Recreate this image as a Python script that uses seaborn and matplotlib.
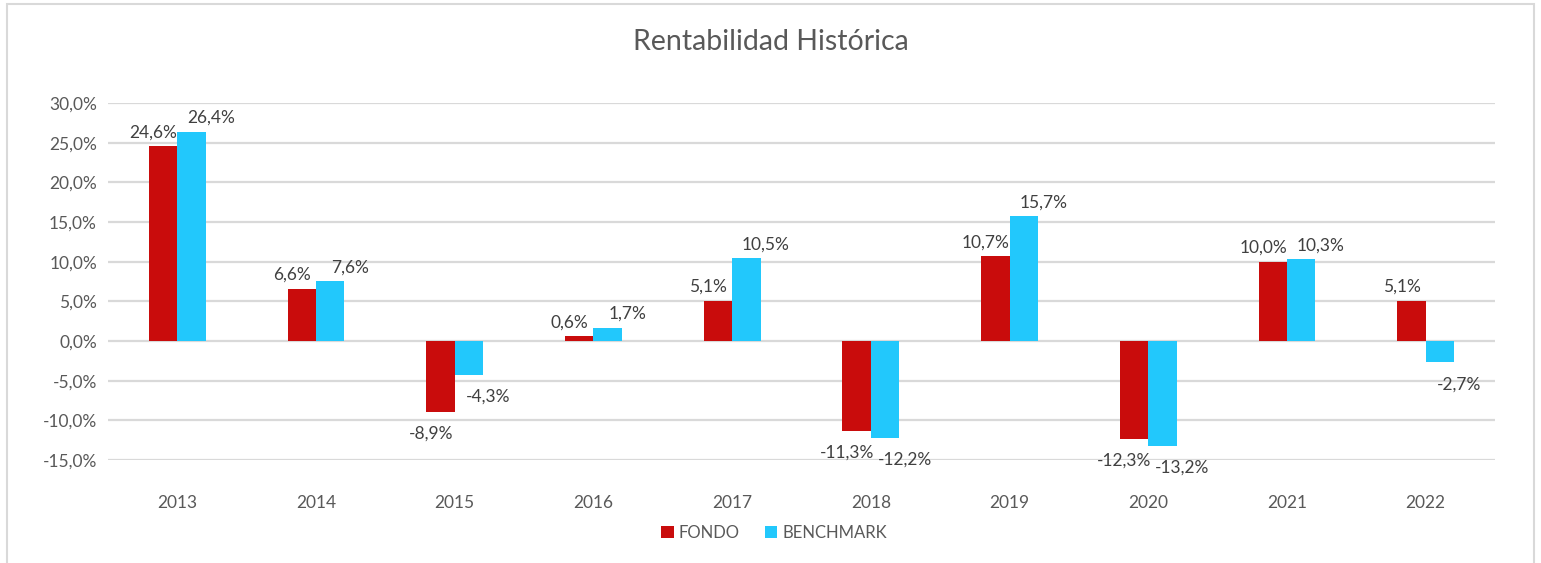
import pandas as pd
import seaborn as sns
import matplotlib.pyplot as plt
from matplotlib.ticker import FuncFormatter, MultipleLocator
from matplotlib.patches import Rectangle

# data (percent)
years = ['2013', '2014', '2015', '2016', '2017', '2018', '2019', '2020', '2021', '2022']
fondo = [24.6, 6.6, -8.9, 0.6, 5.1, -11.3, 10.7, -12.3, 10.0, 5.1]
benchmark = [26.4, 7.6, -4.3, 1.7, 10.5, -12.2, 15.7, -13.2, 10.3, -2.7]
series = ['FONDO', 'BENCHMARK']
colors = ['#C90C0C', '#22C8FC']

df = pd.DataFrame({
    'year': years * 2,
    'value': fondo + benchmark,
    'serie': [series[0]] * len(years) + [series[1]] * len(years),
})

sns.set_theme(style='white')
plt.rcParams['font.family'] = ['Lato', 'DejaVu Sans']
text_color = '#595959'
grid_color = '#D9D9D9'

fig = plt.figure(figsize=(15.41, 5.63), dpi=100)
ax = fig.add_axes([108 / 1541, 1 - 460 / 563, 1387 / 1541, 357 / 563])

sns.barplot(data=df, x='year', y='value', hue='serie', palette=colors,
            width=0.41, gap=0, saturation=1, ax=ax, errorbar=None, linewidth=0)

ax.set_ylim(-15, 30)
ax.yaxis.set_major_locator(MultipleLocator(5))
ax.yaxis.set_major_formatter(FuncFormatter(lambda v, p: f'{v:.1f}%'.replace('.', ',')))
ax.grid(axis='y', color=grid_color, linewidth=1.6)
ax.set_axisbelow(True)
for s in ax.spines.values():
    s.set_visible(False)
ax.tick_params(axis='both', length=0, labelsize=12.5, labelcolor=text_color)
ax.tick_params(axis='x', pad=25)
ax.tick_params(axis='y', pad=8)
ax.set_xlabel('')
ax.set_ylabel('')

# data labels, Excel style (pushed slightly apart)
shifts = [-7, 14]
for cont, vals, dx in zip(ax.containers, [fondo, benchmark], shifts):
    for bar, v in zip(cont, vals):
        x = bar.get_x() + bar.get_width() / 2
        dy = 4 if v >= 0 else -10
        ax.annotate(f'{v:.1f}%'.replace('.', ','), (x, v), xytext=(dx, dy),
                    textcoords='offset points', ha='center',
                    va='bottom' if v >= 0 else 'top',
                    fontsize=12.5, color='#404040')

leg = ax.legend(loc='center', bbox_to_anchor=((774 - 108) / 1387, (533 - 460) / -357), ncol=2,
                frameon=False, fontsize=12, handlelength=0.75, handleheight=0.75,
                handletextpad=0.3, columnspacing=1.5, labelcolor=text_color)

fig.text(0.5, 1 - 42 / 563, 'Rentabilidad Histórica', ha='center', va='center',
         fontsize=20.5, color=text_color)

fig.patches.append(Rectangle((7 / 1541, -0.02), 1527 / 1541, 1.013, transform=fig.transFigure,
                             fill=False, edgecolor=grid_color, linewidth=1.5))

plt.savefig('out.png', dpi=100)
